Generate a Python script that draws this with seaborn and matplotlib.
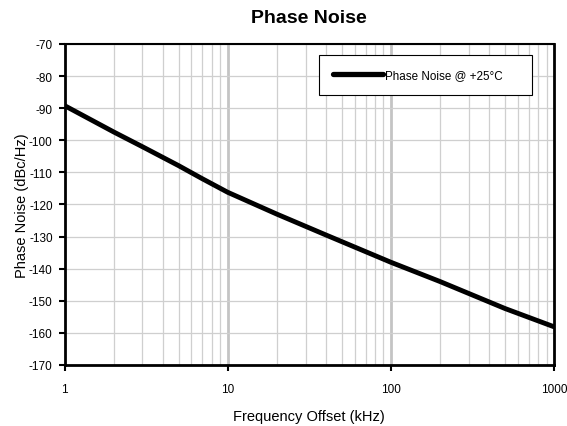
import matplotlib
matplotlib.use("Agg")
import matplotlib.pyplot as plt
import seaborn as sns
import pandas as pd
from matplotlib.ticker import FixedLocator, NullFormatter

freq_khz = [1, 2, 3, 5, 7, 10, 20, 40, 100, 200, 500, 1000]
phase_noise = [-89.2, -97.4, -102.0, -107.9, -112.0, -116.2, -123.0, -129.5, -138.0, -144.0, -152.4, -158.1]
series_label = "Phase Noise @ +25°C"
x_ticks = [1, 10, 100, 1000]
x_ticklabels = ["1", "10", "100", "1000"]
y_ticks = [-170, -160, -150, -140, -130, -120, -110, -100, -90, -80, -70]

df = pd.DataFrame({"freq": freq_khz, "pn": phase_noise, "series": series_label})

sns.set_style("white")
plt.rcParams["font.family"] = ["Liberation Sans", "DejaVu Sans"]
plt.rcParams["text.color"] = "black"
plt.rcParams["axes.labelcolor"] = "black"
plt.rcParams["xtick.color"] = "black"
plt.rcParams["ytick.color"] = "black"

fig = plt.figure(figsize=(5.67, 4.27), dpi=100)
ax = fig.add_axes([0.1138, 0.1429, 0.8633, 0.7518])

ax.set_xscale("log")
ax.set_xlim(1, 1000)
ax.set_ylim(-170, -70)

# grid
minor_x = [m * d for d in [1, 10, 100] for m in range(2, 10)]
for xv in minor_x:
    ax.axvline(xv, color="#cfcfcf", lw=0.9, zorder=0)
for xv in [10, 100]:
    ax.axvline(xv, color="#c4c4c4", lw=2.0, zorder=0)
for yv in y_ticks:
    ax.axhline(yv, color="#cfcfcf", lw=0.9, zorder=0)

sns.lineplot(data=df, x="freq", y="pn", hue="series", palette=["black"],
             linewidth=3.5, ax=ax, legend=True)

ax.xaxis.set_major_locator(FixedLocator(x_ticks))
ax.set_xticklabels(x_ticklabels)
ax.xaxis.set_minor_locator(FixedLocator([]))
ax.xaxis.set_minor_formatter(NullFormatter())
ax.set_yticks(y_ticks)
ax.set_yticklabels([str(v) for v in y_ticks])
ax.tick_params(axis="both", which="major", direction="out", length=4, width=1.5,
               labelsize=8.5, colors="black", labelcolor="black", pad=4.5, bottom=True, left=True)
ax.tick_params(axis="x", pad=9)

for s in ["left", "bottom", "right"]:
    ax.spines[s].set_linewidth(2.0)
    ax.spines[s].set_color("black")
ax.spines["top"].set_linewidth(1.5)
ax.spines["top"].set_color("black")

ax.set_xlabel("Frequency Offset (kHz)", fontsize=10.5, labelpad=10, color="black")
ax.set_ylabel("Phase Noise (dBc/Hz)", fontsize=10.5, labelpad=0, color="black")
fig.text(0.5455, 0.957, "Phase Noise", ha="center", va="center", fontsize=14,
         fontweight="bold", color="black")

leg = ax.legend(loc="lower left", bbox_to_anchor=(0.52, 0.841, 0.435, 0.128), mode="expand",
                fontsize=8.4, frameon=True, fancybox=False, shadow=False, borderpad=1.2,
                handlelength=4.3, handletextpad=0.15, borderaxespad=0)
leg.get_frame().set_edgecolor("black")
leg.get_frame().set_linewidth(0.8)
leg.get_frame().set_alpha(1)
for t in leg.get_texts():
    t.set_color("black")
for line in leg.get_lines():
    line.set_linewidth(3.8)

fig.savefig("out.png", dpi=100)
